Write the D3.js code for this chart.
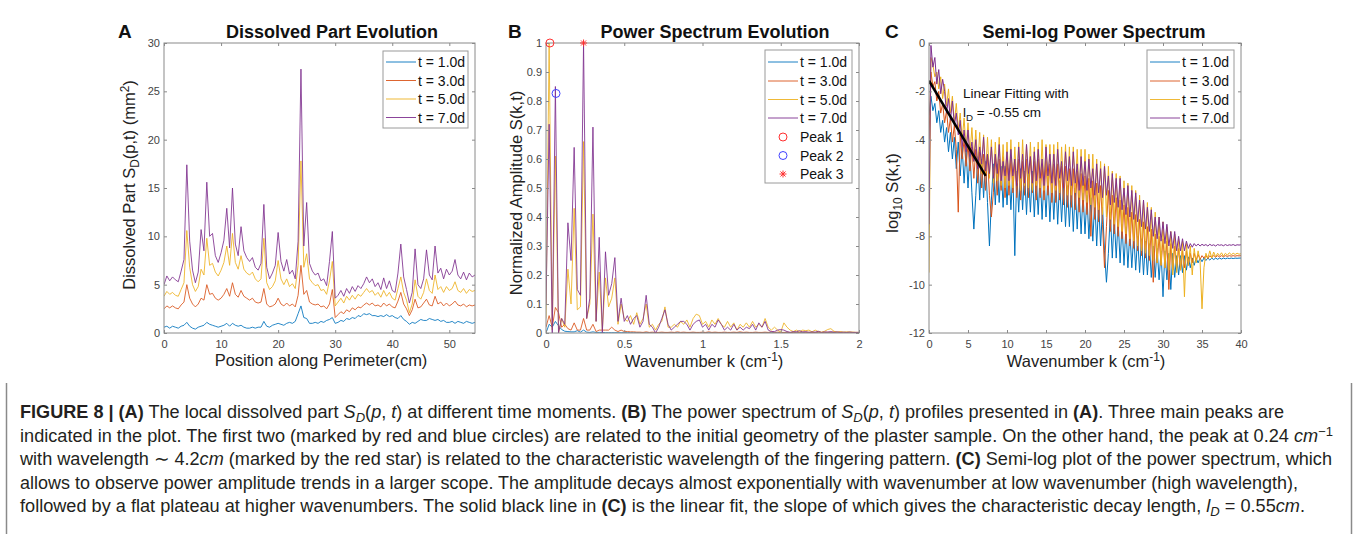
<!DOCTYPE html>
<html><head><meta charset="utf-8">
<script src="https://cdn.jsdelivr.net/npm/d3@7"></script>
<style>body{margin:0;background:#fff}svg{display:block}</style>
</head><body>
<svg id="fig" width="1357" height="546"></svg>
<script>
// ---------------- DATA ----------------
const seriesLabels = ["t = 1.0d", "t = 3.0d", "t = 5.0d", "t = 7.0d"];
const peakLabels = ["Peak 1", "Peak 2", "Peak 3"];

// Panel A: dissolved part vs position (cm), sampled every 0.5 cm from 0 to 54.5
const positionA = d3.range(0, 54.51, 0.5);
const dissolved1d = [
 0.6,0.7,0.5,0.7,0.6,0.5,0.7,0.8,1.1,0.7,
 0.5,0.4,0.6,0.7,0.8,1.1,0.9,0.8,0.7,0.6,
 0.7,0.8,1.0,0.7,1.0,0.8,0.7,0.8,0.6,0.5,
 0.5,0.6,0.5,0.6,0.6,1.2,0.7,0.6,0.8,0.9,
 1.0,0.9,0.8,1.0,1.1,1.0,1.2,2.0,2.8,1.6,
 1.5,1.0,1.0,1.1,1.0,1.2,1.1,1.3,1.4,1.6,
 1.0,1.1,1.3,1.2,1.5,1.4,1.6,1.5,1.8,1.7,
 2.0,1.9,2.0,1.8,1.8,1.7,1.8,1.7,1.9,1.7,
 1.8,1.6,1.5,1.8,1.4,1.2,0.9,1.1,1.0,1.2,
 1.4,1.3,1.3,1.5,1.4,1.3,1.4,1.2,1.3,1.1,
 1.1,1.2,1.0,1.2,1.1,1.0,1.2,1.1,1.0,1.1];
const dissolved3d = [
 2.5,2.8,2.6,2.8,2.6,2.5,2.9,3.2,5.0,3.6,
 3.0,2.7,3.0,3.6,3.4,5.0,4.0,4.1,3.6,3.4,
 3.6,4.0,4.6,3.8,5.2,4.0,3.7,4.4,3.8,3.6,
 3.4,3.6,3.2,3.1,3.2,4.6,3.0,2.7,2.8,3.0,
 3.6,3.0,2.8,3.1,2.8,3.0,2.7,3.9,7.0,4.0,
 4.4,3.2,3.0,2.9,3.0,2.7,2.8,2.5,3.0,4.5,
 1.6,1.9,2.2,2.0,2.4,2.2,2.6,2.4,2.7,2.6,
 2.9,3.1,2.9,3.1,2.8,2.9,2.7,3.1,2.8,3.0,
 2.7,2.6,3.3,4.2,3.0,2.5,1.8,2.4,3.5,2.6,
 2.7,3.1,3.5,2.9,2.8,3.8,3.0,3.2,2.8,3.1,
 2.8,3.0,3.3,2.9,2.8,3.0,2.7,2.9,2.8,2.9];
const dissolved5d = [
 3.8,4.3,4.0,4.2,3.9,3.8,4.5,5.2,10.6,6.8,
 5.0,4.3,4.8,6.6,6.0,9.8,7.0,7.2,6.3,5.9,
 6.5,7.3,9.0,7.0,10.3,7.3,6.6,8.0,6.6,6.2,
 6.0,6.3,5.6,5.3,5.6,9.8,5.2,4.5,4.8,5.4,
 7.5,5.6,5.0,5.6,4.8,5.1,4.6,7.0,17.8,6.8,
 8.2,5.6,5.2,4.9,5.0,4.4,4.5,4.0,5.4,7.4,
 2.8,3.2,3.6,3.1,3.8,3.4,3.9,3.5,4.0,3.8,
 4.2,4.6,4.2,4.4,3.9,4.2,3.7,4.4,3.8,4.2,
 3.6,3.4,4.6,5.8,4.2,3.4,2.1,3.0,5.5,3.8,
 3.5,4.2,5.6,4.4,4.1,6.0,4.5,4.8,4.2,4.8,
 4.4,4.6,5.3,4.4,4.2,4.6,4.1,4.5,4.3,4.4];
const dissolved7d = [
 5.0,5.9,5.4,5.8,5.5,5.3,6.4,7.6,17.4,9.5,
 6.5,5.2,6.3,10.7,8.5,15.6,10.0,10.3,8.0,7.3,
 8.3,9.6,12.9,8.8,15.0,9.2,8.0,11.0,8.5,7.8,
 7.4,7.8,6.8,6.5,7.2,13.3,6.8,5.6,6.2,7.0,
 10.4,7.4,6.4,7.6,6.1,6.5,5.6,9.5,27.3,9.0,
 13.5,7.2,6.4,6.0,6.2,5.4,5.6,4.9,7.4,10.5,
 3.6,3.9,4.4,3.8,4.6,4.1,4.8,4.3,4.9,4.6,
 5.1,5.8,5.2,5.6,4.8,5.2,4.5,5.7,4.6,5.4,
 4.4,4.2,6.2,9.2,5.8,4.5,3.1,4.2,8.7,5.0,
 4.6,5.6,8.6,6.0,5.5,9.0,6.2,6.7,5.6,6.6,
 6.0,6.4,7.6,6.0,5.6,6.3,5.5,6.2,5.8,6.0];

// Panel B: normalized power spectrum, k from 0 to 2 step 0.02
const wavenumberB = d3.range(0, 2.001, 0.02);
const spectrum1d = [
 0.00,0.03,0.02,0.04,0.025,0.012,0.006,0.005,0.004,0.004,
 0.008,0.003,0.01,0.003,0.002,0.004,0.002,0.002,0.002,0.001,
 0.001,0.001,0.001,0.001,0.001,0.001,0.001,0.001,0.001,0.001,
 0.001,0.001,0.001,0.001,0.001,0.001,0.001,0.001,0.001,0.001,
 0.001,0.001,0.001,0.001,0.001,0.001,0.001,0.001,0.001,0.001,
 0.001,0.001,0.001,0.001,0.001,0.001,0.001,0.001,0.001,0.001,
 0.001,0.001,0.001,0.001,0.001,0.001,0.001,0.001,0.001,0.001,
 0.001,0.001,0.001,0.001,0.001,0.001,0.001,0.001,0.001,0.001,
 0.001,0.001,0.001,0.001,0.001,0.001,0.001,0.001,0.001,0.001,
 0.001,0.001,0.001,0.001,0.001,0.001,0.001,0.001,0.001,0.001,
 0.001];
const spectrum3d = [
 0.02,0.06,0.02,0.088,0.07,0.02,0.03,0.015,0.01,0.035,
 0.01,0.01,0.05,0.01,0.01,0.03,0.005,0.01,0.01,0.01,
 0.01,0.02,0.01,0.005,0.01,0.005,0.005,0.004,0.004,0.003,
 0.003,0.002,0.004,0.002,0.003,0.002,0.002,0.003,0.002,0.002,
 0.003,0.002,0.004,0.002,0.003,0.002,0.002,0.003,0.002,0.002,
 0.003,0.002,0.004,0.002,0.003,0.002,0.002,0.003,0.002,0.002,
 0.003,0.002,0.004,0.002,0.003,0.002,0.002,0.003,0.002,0.002,
 0.003,0.002,0.004,0.002,0.003,0.002,0.002,0.003,0.002,0.002,
 0.003,0.002,0.004,0.002,0.003,0.002,0.002,0.003,0.002,0.002,
 0.003,0.002,0.004,0.002,0.003,0.002,0.002,0.003,0.002,0.002,
 0.002];
const spectrum5d = [
 0.05,1.00,0.01,0.61,0.00,0.05,0.02,0.22,0.10,0.43,
 0.08,0.09,0.66,0.05,0.10,0.41,0.04,0.21,0.01,0.19,
 0.09,0.12,0.19,0.03,0.10,0.05,0.04,0.06,0.03,0.07,
 0.03,0.05,0.10,0.02,0.03,0.01,0.03,0.04,0.09,0.02,
 0.02,0.03,0.02,0.04,0.03,0.045,0.02,0.05,0.065,0.06,
 0.03,0.04,0.02,0.045,0.03,0.05,0.03,0.02,0.04,0.02,
 0.035,0.01,0.03,0.02,0.035,0.02,0.04,0.02,0.03,0.02,
 0.05,0.02,0.01,0.02,0.01,0.003,0.035,0.02,0.01,0.005,
 0.01,0.005,0.01,0.008,0.01,0.004,0.01,0.005,0.003,0.006,
 0.012,0.015,0.006,0.003,0.005,0.003,0.004,0.003,0.003,0.002,
 0.002];
const spectrum7d = [
 0.10,0.72,0.00,0.85,0.00,0.05,0.03,0.38,0.25,0.64,
 0.15,0.13,1.00,0.05,0.12,0.71,0.04,0.33,0.00,0.28,
 0.13,0.17,0.26,0.04,0.12,0.04,0.06,0.03,0.05,0.06,
 0.02,0.04,0.13,0.03,0.02,0.00,0.02,0.05,0.08,0.03,
 0.01,0.02,0.03,0.04,0.04,0.03,0.01,0.03,0.04,0.045,
 0.02,0.03,0.01,0.03,0.02,0.045,0.03,0.01,0.02,0.01,
 0.03,0.01,0.02,0.01,0.02,0.015,0.03,0.01,0.035,0.02,
 0.04,0.01,0.005,0.005,0.01,0.012,0.01,0.005,0.002,0.005,
 0.004,0.008,0.003,0.005,0.002,0.004,0.003,0.006,0.002,0.004,
 0.003,0.005,0.002,0.004,0.002,0.003,0.002,0.003,0.002,0.002,
 0.002];
const peakK = [0.025, 0.064, 0.24];
const peakAmp = [1.0, 0.826, 1.0];

// Panel C: log10 power spectrum, k from 0 to 40 step 0.25
const wavenumberC = d3.range(0, 40.001, 0.25);
const logSpec1d = [
 -3.0,-2.2,-2.8,-2.5,-3.3,-2.8,-3.7,-3.2,
 -4.1,-3.5,-4.5,-3.7,-4.8,-3.9,-5.2,-4.1,
 -5.5,-4.3,-5.8,-4.4,-6.0,-4.5,-6.2,-7.7,
 -6.3,-4.7,-6.5,-4.8,-6.4,-4.9,-6.6,-8.4,
 -6.5,-5.0,-6.7,-5.0,-6.6,-5.1,-6.8,-5.1,
 -6.7,-5.2,-6.9,-5.3,-8.8,-5.3,-7.0,-5.2,
 -6.9,-5.3,-7.1,-5.4,-7.0,-5.3,-7.2,-5.5,
 -7.1,-5.4,-7.3,-5.5,-7.2,-5.5,-7.4,-5.6,
 -7.3,-5.6,-7.5,-5.7,-7.4,-5.8,-7.6,-5.9,
 -7.6,-5.9,-7.8,-6.0,-7.7,-6.1,-7.9,-6.2,
 -7.9,-6.3,-8.1,-6.4,-8.2,-6.5,-8.4,-6.6,
 -8.4,-6.8,-8.6,-9.9,-8.7,-7.0,-8.9,-7.2,
 -8.9,-7.3,-9.1,-7.5,-9.2,-7.6,-9.3,-7.8,
 -9.3,-7.9,-9.4,-8.0,-9.5,-8.1,-9.6,-8.2,
 -9.6,-8.3,-9.7,-8.4,-9.7,-8.5,-9.8,-8.6,
 -10.5,-8.6,-9.8,-8.7,-10.2,-8.7,-9.7,-8.8,
 -9.6,-8.8,-9.5,-8.8,-9.4,-8.85,-9.3,-8.9,
 -9.2,-8.9,-9.1,-8.9,-9.05,-8.9,-9.0,-8.9,
 -8.98,-8.9,-8.96,-8.9,-8.95,-8.9,-8.94,-8.9,
 -8.93,-8.9,-8.92,-8.9,-8.92,-8.9,-8.91,-8.9,
 -8.9];
const logSpec3d = [
 -4.0,-1.2,-1.8,-1.6,-2.4,-2.0,-2.9,-2.5,
 -3.3,-2.8,-3.7,-3.1,-4.1,-3.4,-4.4,-7.0,
 -3.8,-4.8,-4.0,-5.1,-4.2,-5.3,-4.3,-5.6,
 -4.4,-5.8,-4.5,-6.0,-4.6,-6.1,-4.6,-6.3,
 -7.2,-6.2,-4.7,-6.3,-4.8,-6.1,-4.7,-6.4,
 -4.8,-6.3,-4.7,-6.2,-4.9,-6.4,-4.8,-6.5,
 -4.9,-6.3,-4.8,-6.4,-4.7,-6.2,-4.9,-6.5,
 -4.8,-6.4,-5.0,-6.5,-4.9,-6.3,-5.0,-6.6,
 -5.0,-6.6,-5.0,-6.5,-5.1,-6.7,-5.1,-6.8,
 -5.2,-6.8,-5.2,-6.9,-5.3,-7.0,-5.4,-7.0,
 -5.5,-7.1,-5.6,-8.0,-5.7,-7.3,-5.8,-7.4,
 -5.9,-7.5,-9.3,-7.6,-6.1,-7.8,-6.3,-7.9,
 -6.4,-8.0,-6.5,-8.1,-6.7,-8.3,-6.8,-8.4,
 -7.0,-8.5,-7.1,-8.6,-7.3,-8.8,-7.4,-8.9,
 -7.6,-9.0,-7.7,-9.9,-7.9,-9.1,-8.0,-9.2,
 -8.1,-9.3,-8.2,-10.2,-8.3,-9.4,-8.4,-9.3,
 -8.5,-9.4,-8.6,-9.3,-8.6,-9.2,-8.7,-9.1,
 -8.7,-9.0,-8.75,-8.95,-8.8,-8.9,-8.78,-8.92,
 -8.8,-8.88,-8.79,-8.86,-8.8,-8.85,-8.8,-8.84,
 -8.8,-8.83,-8.8,-8.82,-8.8,-8.82,-8.8,-8.81,
 -8.8];
const logSpec5d = [
 -9.5,-0.6,-0.9,-1.4,-1.2,-1.9,-1.4,-2.3,
 -1.7,-2.6,-1.9,-2.9,-2.2,-3.3,-2.5,-3.6,
 -2.9,-4.0,-3.1,-4.4,-3.3,-4.6,-3.5,-4.9,
 -3.6,-5.1,-3.7,-5.4,-3.8,-5.5,-3.9,-5.6,
 -4.0,-5.8,-4.1,-5.7,-3.9,-5.9,-4.2,-6.0,
 -4.1,-5.9,-4.0,-6.0,-4.3,-5.8,-4.1,-6.1,
 -4.0,-5.9,-4.2,-6.0,-4.1,-6.1,-4.3,-5.9,
 -4.1,-6.0,-4.0,-6.1,-4.2,-5.9,-4.2,-6.2,
 -4.2,-6.1,-4.1,-6.2,-4.3,-6.0,-4.2,-6.3,
 -4.3,-6.3,-4.3,-6.2,-4.4,-6.4,-4.4,-6.5,
 -4.4,-6.6,-4.6,-6.7,-4.6,-6.8,-4.8,-6.9,
 -4.9,-7.1,-5.0,-7.2,-5.1,-7.3,-5.3,-7.5,
 -5.4,-7.6,-5.5,-7.8,-5.7,-7.9,-5.8,-8.1,
 -5.9,-8.2,-6.1,-8.4,-6.3,-8.6,-6.5,-8.7,
 -6.6,-8.8,-6.8,-9.0,-7.0,-9.1,-7.2,-9.2,
 -7.4,-9.3,-7.6,-9.4,-7.8,-9.6,-7.9,-9.5,
 -8.1,-9.4,-8.2,-10.5,-8.3,-9.2,-8.4,-9.6,
 -8.5,-9.1,-8.6,-9.0,-11.0,-9.3,-8.7,-8.9,
 -8.6,-8.9,-8.65,-8.85,-8.7,-8.8,-8.68,-8.82,
 -8.7,-8.78,-8.68,-8.76,-8.7,-8.75,-8.7,-8.74,
 -8.72];
const logSpec7d = [
 -7.5,-0.1,-1.0,-0.6,-1.7,-1.1,-2.1,-1.5,
 -2.0,-2.9,-2.3,-3.2,-2.4,-3.4,-2.9,-3.8,
 -3.2,-4.3,-3.6,-4.5,-3.6,-4.7,-4.1,-4.9,
 -4.0,-5.2,-4.3,-5.0,-3.9,-5.3,-4.6,-5.4,
 -4.3,-5.6,-4.6,-5.4,-4.2,-5.7,-4.9,-5.5,
 -4.5,-5.7,-4.4,-5.5,-4.8,-5.9,-4.3,-5.6,
 -4.6,-5.8,-4.2,-5.4,-4.7,-5.8,-4.5,-5.7,
 -4.4,-5.6,-4.8,-5.9,-4.3,-5.5,-4.6,-5.8,
 -4.6,-5.9,-4.4,-5.6,-4.9,-6.0,-4.5,-5.7,
 -4.7,-5.9,-4.5,-5.8,-5.0,-6.1,-4.7,-5.9,
 -4.9,-6.1,-4.8,-6.0,-5.2,-6.3,-5.0,-6.2,
 -5.2,-6.4,-5.1,-6.3,-5.5,-6.7,-5.4,-6.6,
 -5.6,-6.8,-5.6,-6.9,-6.0,-7.1,-5.9,-7.2,
 -6.1,-7.3,-6.2,-7.4,-6.5,-7.6,-6.5,-7.7,
 -6.8,-7.8,-6.9,-8.0,-7.2,-8.1,-7.2,-8.2,
 -7.4,-8.3,-7.5,-8.4,-7.8,-8.5,-7.8,-8.6,
 -8.0,-8.6,-8.1,-8.6,-8.2,-8.5,-8.3,-8.45,
 -8.3,-8.4,-8.32,-8.4,-8.33,-8.38,-8.34,-8.4,
 -8.33,-8.38,-8.35,-8.4,-8.34,-8.37,-8.35,-8.39,
 -8.34,-8.38,-8.35,-8.37,-8.34,-8.38,-8.35,-8.36,
 -8.35];
const fitK = [0, 7.27];
const fitLog = [-1.56, -5.5];

// Tick values
const ticksAX = [0, 10, 20, 30, 40, 50];
const ticksAY = [0, 5, 10, 15, 20, 25, 30];
const ticksBX = [0, 0.5, 1, 1.5, 2];
const ticksBY = [0, 0.1, 0.2, 0.3, 0.4, 0.5, 0.6, 0.7, 0.8, 0.9, 1];
const ticksCX = [0, 5, 10, 15, 20, 25, 30, 35, 40];
const ticksCY = [-12, -10, -8, -6, -4, -2, 0];

// ---------------- STYLE ----------------
const COLORS = ["#0072BD", "#D95319", "#EDB120", "#7E2F8E"];
const FONT = "'Liberation Sans', Arial, Helvetica, sans-serif";
const AXIS_COLOR = "#8a8a8a";
const LABEL_SIZE = 16.5;
const svg = d3.select("#fig");
svg.append("rect").attr("width", 1357).attr("height", 546).attr("fill", "#fff");

function makePanel(cfg) {
  const x = d3.scaleLinear().domain(cfg.xDomain).range([cfg.x0, cfg.x1]);
  const y = d3.scaleLinear().domain(cfg.yDomain).range([cfg.y1, cfg.y0]);
  svg.append("clipPath").attr("id", cfg.id).append("rect")
    .attr("x", cfg.x0).attr("y", cfg.y0).attr("width", cfg.x1 - cfg.x0).attr("height", cfg.y1 - cfg.y0);
  const plot = svg.append("g").attr("clip-path", `url(#${cfg.id})`);
  return {x, y, plot, cfg};
}

function drawAxes(p) {
  const c = p.cfg;
  const g = svg.append("g").attr("font-family", FONT);
  const fmt = d => String(d);
  g.append("g").attr("transform", `translate(0,${c.y1})`)
    .call(d3.axisBottom(p.x).tickValues(c.xTicks).tickSize(-3).tickPadding(7).tickFormat(fmt));
  g.append("g").attr("transform", `translate(0,${c.y0})`)
    .call(d3.axisTop(p.x).tickValues(c.xTicks).tickSize(-3).tickFormat(""));
  g.append("g").attr("transform", `translate(${c.x0},0)`)
    .call(d3.axisLeft(p.y).tickValues(c.yTicks).tickSize(-3).tickPadding(4).tickFormat(fmt));
  g.append("g").attr("transform", `translate(${c.x1},0)`)
    .call(d3.axisRight(p.y).tickValues(c.yTicks).tickSize(-3).tickFormat(""));
  g.selectAll(".domain").remove();
  g.selectAll(".tick line").attr("stroke", AXIS_COLOR);
  g.selectAll(".tick text").attr("fill", "#444").attr("font-size", 11).attr("font-family", FONT);
  g.append("rect").attr("x", c.x0).attr("y", c.y0).attr("width", c.x1 - c.x0).attr("height", c.y1 - c.y0)
    .attr("fill", "none").attr("stroke", AXIS_COLOR).attr("stroke-width", 1);
}

function drawLines(p, xs, seriesList, width) {
  seriesList.forEach((vals, i) => {
    const line = d3.line().x((d, j) => p.x(xs[j])).y(d => p.y(d));
    p.plot.append("path").datum(vals).attr("d", line)
      .attr("fill", "none").attr("stroke", COLORS[i]).attr("stroke-width", width).attr("stroke-linejoin", "round");
  });
}

function title(letter, lx, text, cx) {
  svg.append("text").attr("x", lx).attr("y", 38).text(letter)
    .attr("font-family", FONT).attr("font-weight", "bold").attr("font-size", 19).attr("fill", "#111");
  svg.append("text").attr("x", cx).attr("y", 38).attr("text-anchor", "middle").text(text)
    .attr("font-family", FONT).attr("font-weight", "bold").attr("font-size", 18).attr("fill", "#111");
}

function richText(sel, parts) {
  let shift = 0;
  parts.forEach(([t, st]) => {
    const ts = sel.append("tspan").text(t);
    let want = 0;
    if (st === "sub" || st === "isub") want = 4;
    if (st === "sup") want = -6;
    if (want !== shift) { ts.attr("dy", want - shift); shift = want; }
    if (st === "b") ts.attr("font-weight", "bold");
    if (st === "i" || st === "isub") ts.attr("font-style", "italic");
    if (want !== 0) ts.attr("font-size", "0.72em");
  });
}

function starPath(r) {
  const d = r * 0.72;
  return `M${-r},0L${r},0M0,${-r}L0,${r}M${-d},${-d}L${d},${d}M${-d},${d}L${d},${-d}`;
}

function legend(x0, y0, x1, y1, rowYs, entries) {
  const g = svg.append("g").attr("font-family", FONT);
  g.append("rect").attr("x", x0).attr("y", y0).attr("width", x1 - x0).attr("height", y1 - y0)
    .attr("fill", "#fff").attr("stroke", "#9a9a9a").attr("stroke-width", 1);
  entries.forEach((e, i) => {
    const yy = rowYs[i];
    if (e.type === "line") {
      g.append("line").attr("x1", x0 + 3).attr("x2", x0 + 33).attr("y1", yy).attr("y2", yy)
        .attr("stroke", e.color).attr("stroke-width", 0.9);
    } else if (e.type === "circle") {
      g.append("circle").attr("cx", x0 + 18).attr("cy", yy).attr("r", 4).attr("fill", "none").attr("stroke", e.color);
    } else {
      g.append("path").attr("transform", `translate(${x0 + 18},${yy})`).attr("d", starPath(3.5))
        .attr("stroke", e.color).attr("fill", "none");
    }
    g.append("text").attr("x", x0 + 35).attr("y", yy).attr("dy", "0.36em").text(e.label)
      .attr("font-size", 14).attr("fill", "#111");
  });
}

// ---------------- PANEL A ----------------
const pA = makePanel({id: "clipA", x0: 164, x1: 475, y0: 43, y1: 333, xDomain: [0, 54.5], yDomain: [0, 30],
  xTicks: ticksAX, yTicks: ticksAY});
drawLines(pA, positionA, [dissolved1d, dissolved3d, dissolved5d, dissolved7d], 0.85);
drawAxes(pA);
title("A", 118, "Dissolved Part Evolution", 332);
legend(383, 51, 468, 128, [62, 80.5, 99, 117.5],
  seriesLabels.map((l, i) => ({label: l, color: COLORS[i], type: "line"})));
richText(svg.append("text").attr("transform", "translate(135,185) rotate(-90)").attr("text-anchor", "middle")
  .attr("font-family", FONT).attr("font-size", LABEL_SIZE).attr("fill", "#222"),
  [["Dissolved Part S", "n"], ["D", "sub"], ["(p,t) (mm", "n"], ["2", "sup"], [")", "n"]]);
svg.append("text").attr("x", 321).attr("y", 366).attr("text-anchor", "middle").text("Position along Perimeter(cm)")
  .attr("font-family", FONT).attr("font-size", LABEL_SIZE).attr("fill", "#222");

// ---------------- PANEL B ----------------
const pB = makePanel({id: "clipB", x0: 546, x1: 859, y0: 43, y1: 333, xDomain: [0, 2], yDomain: [0, 1],
  xTicks: ticksBX, yTicks: ticksBY});
drawLines(pB, wavenumberB, [spectrum1d, spectrum3d, spectrum5d, spectrum7d], 0.85);
drawAxes(pB);
const peakG = svg.append("g");
peakG.append("circle").attr("cx", pB.x(peakK[0])).attr("cy", pB.y(peakAmp[0])).attr("r", 4)
  .attr("fill", "none").attr("stroke", "#ff3030");
peakG.append("circle").attr("cx", pB.x(peakK[1])).attr("cy", pB.y(peakAmp[1])).attr("r", 4)
  .attr("fill", "none").attr("stroke", "#4040ff");
peakG.append("path").attr("transform", `translate(${pB.x(peakK[2])},${pB.y(peakAmp[2])})`).attr("d", starPath(3.5))
  .attr("stroke", "#ff3030").attr("fill", "none");
title("B", 508, "Power Spectrum Evolution", 715);
legend(765, 50, 852, 183, [62, 81, 99.5, 118, 137, 155.5, 174],
  seriesLabels.map((l, i) => ({label: l, color: COLORS[i], type: "line"}))
    .concat([{label: peakLabels[0], color: "#ff3030", type: "circle"},
             {label: peakLabels[1], color: "#4040ff", type: "circle"},
             {label: peakLabels[2], color: "#ff3030", type: "star"}]));
svg.append("text").attr("transform", "translate(522,193) rotate(-90)").attr("text-anchor", "middle")
  .text("Normalized Amplitude S(k,t)").attr("font-family", FONT).attr("font-size", LABEL_SIZE).attr("fill", "#222");
richText(svg.append("text").attr("x", 704).attr("y", 367).attr("text-anchor", "middle")
  .attr("font-family", FONT).attr("font-size", LABEL_SIZE).attr("fill", "#222"),
  [["Wavenumber k (cm", "n"], ["-1", "sup"], [")", "n"]]);

// ---------------- PANEL C ----------------
const pC = makePanel({id: "clipC", x0: 929, x1: 1241, y0: 43, y1: 333, xDomain: [0, 40], yDomain: [-12, 0],
  xTicks: ticksCX, yTicks: ticksCY});
drawLines(pC, wavenumberC, [logSpec1d, logSpec3d, logSpec5d, logSpec7d], 1);
pC.plot.append("path").datum(fitLog)
  .attr("d", d3.line().x((d, j) => pC.x(fitK[j])).y(d => pC.y(d)))
  .attr("stroke", "#000").attr("stroke-width", 2.5).attr("fill", "none");
drawAxes(pC);
title("C", 885, "Semi-log Power Spectrum", 1094);
legend(1147, 50, 1234, 128, [62, 81, 99.5, 118],
  seriesLabels.map((l, i) => ({label: l, color: COLORS[i], type: "line"})));
svg.append("text").attr("x", 963).attr("y", 98).text("Linear Fitting with")
  .attr("font-family", FONT).attr("font-size", 13.5).attr("fill", "#111");
richText(svg.append("text").attr("x", 963).attr("y", 117).attr("font-family", FONT).attr("font-size", 13.5).attr("fill", "#111"),
  [["l", "n"], ["D", "sub"], [" = -0.55 cm", "n"]]);
richText(svg.append("text").attr("transform", "translate(898,193) rotate(-90)").attr("text-anchor", "middle")
  .attr("font-family", FONT).attr("font-size", LABEL_SIZE).attr("fill", "#222"),
  [["log", "n"], ["10", "sub"], [" S(k,t)", "n"]]);
richText(svg.append("text").attr("x", 1086).attr("y", 367).attr("text-anchor", "middle")
  .attr("font-family", FONT).attr("font-size", LABEL_SIZE).attr("fill", "#222"),
  [["Wavenumber k (cm", "n"], ["-1", "sup"], [")", "n"]]);

// ---------------- CAPTION ----------------
const CAPFONT = "'Liberation Sans Narrow', 'Liberation Sans', Arial, sans-serif";
svg.append("line").attr("x1", 6.5).attr("x2", 6.5).attr("y1", 383).attr("y2", 534).attr("stroke", "#8a8a8a").attr("stroke-width", 1.5);
svg.append("line").attr("x1", 1351.5).attr("x2", 1351.5).attr("y1", 383).attr("y2", 534).attr("stroke", "#8a8a8a").attr("stroke-width", 1.5);
const captionLines = [
  [["FIGURE 8 | ", "b"], ["(A)", "b"], [" The local dissolved part ", "n"], ["S", "i"], ["D", "isub"], ["(", "n"], ["p", "i"], [", ", "n"], ["t", "i"],
   [") at different time moments. ", "n"], ["(B)", "b"], [" The power spectrum of ", "n"], ["S", "i"], ["D", "isub"], ["(", "n"], ["p", "i"], [", ", "n"], ["t", "i"],
   [") profiles presented in ", "n"], ["(A)", "b"], [". Three main peaks are", "n"]],
  [["indicated in the plot. The first two (marked by red and blue circles) are related to the initial geometry of the plaster sample. On the other hand, the peak at 0.24 ", "n"], ["cm", "i"], ["\u22121", "sup"]],
  [["with wavelength \u223C 4.2", "n"], ["cm", "i"], [" (marked by the red star) is related to the characteristic wavelength of the fingering pattern. ", "n"], ["(C)", "b"], [" Semi-log plot of the power spectrum, which", "n"]],
  [["allows to observe power amplitude trends in a larger scope. The amplitude decays almost exponentially with wavenumber at low wavenumber (high wavelength),", "n"]],
  [["followed by a flat plateau at higher wavenumbers. The solid black line in ", "n"], ["(C)", "b"], [" is the linear fit, the slope of which gives the characteristic decay length, ", "n"], ["l", "i"], ["D", "isub"], [" = 0.55", "n"], ["cm", "i"], [".", "n"]]
];
const capBase = [418, 441.5, 465, 488.5, 512];
const capWidth = [1264, 1313, 1312, 1278, 1285];
captionLines.forEach((parts, i) => {
  const t = svg.append("text").attr("x", 20).attr("y", capBase[i]).attr("font-family", CAPFONT).attr("font-size", 17.5)
    .attr("fill", "#231f20").attr("textLength", capWidth[i]).attr("lengthAdjust", "spacingAndGlyphs");
  richText(t, parts);
});
</script>
</body></html>
